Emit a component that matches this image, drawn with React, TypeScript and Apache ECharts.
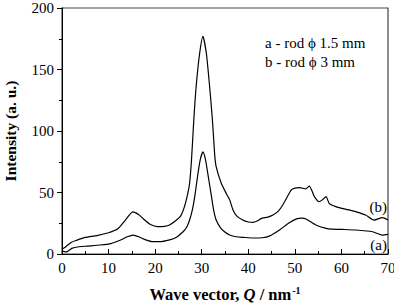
import React, { useEffect, useRef } from "react";
import * as echarts from "echarts";

// Wave vector Q (nm^-1) and intensity for sample (a), rod diameter 1.5 mm
const qA = [0, 0.5, 1, 1.5, 2.1, 3, 5, 8.2, 10.5, 12.6, 14, 15.3, 16.5, 18, 19.5, 21, 23.1, 24.5, 26, 26.8, 27.4, 28, 28.5, 29.2, 29.7, 30.26, 30.8, 31.3, 32.1, 32.6, 33.1, 34, 34.9, 36, 37.4, 39, 41, 43, 44.5, 46.7, 48.8, 50.5, 51.5, 52.4, 54.5, 56.7, 58, 60.2, 63.1, 66.7, 68.8, 70];
const intensityA = [2.5, 2, 1.8, 3, 4.6, 5.5, 6.3, 7.3, 8.5, 11.4, 14, 15.4, 14, 11.5, 10, 10, 11.5, 13.5, 18.1, 22, 27.6, 36, 46.6, 65.6, 77, 83, 77, 65.6, 46.6, 35, 27.6, 21.5, 18.1, 15.5, 14, 13.5, 13, 13.2, 14.5, 19.5, 25.5, 28.8, 29.2, 28.5, 23.6, 20.9, 20.3, 20, 19.5, 18.1, 15.4, 16];

// Wave vector Q (nm^-1) and intensity for sample (b), rod diameter 3 mm
const qB = [0, 0.5, 1, 2, 3, 5, 7.5, 10, 12, 13.5, 15.2, 16.5, 17.5, 19, 20.5, 22, 23.1, 24.6, 25.5, 26.3, 27, 27.4, 27.8, 28.3, 28.8, 29.55, 30.26, 31, 31.7, 32.3, 32.8, 33.1, 34.2, 35.3, 36, 36.7, 37.5, 38.8, 40, 41, 42, 42.8, 44.2, 45.3, 46.5, 47.4, 48.3, 49.2, 50, 51, 52.4, 53.1, 53.6, 54.2, 55.2, 55.9, 56.7, 57.4, 58.8, 61, 62, 63.1, 65.2, 67, 68.8, 70];
const intensityB = [4, 5, 6.5, 9.5, 11, 13.5, 15, 17.3, 20.5, 27, 34.2, 32, 28.5, 24, 22.3, 22.5, 23.6, 27.6, 31, 38.5, 49, 57.5, 76, 109, 136, 163, 177, 163, 136, 109, 80, 71, 57.5, 49, 44, 36, 31, 27.6, 26, 25.7, 27, 29, 30, 31.7, 35, 39.8, 46, 52, 53.5, 54, 53, 55.3, 52, 46.6, 42.5, 44, 46.6, 41, 38.5, 36.3, 35.5, 34.4, 31.7, 27.6, 29.5, 27.6];

const xTicks = { min: 0, max: 70, interval: 10 };
const yTicks = { min: 0, max: 200, interval: 50 };

const legendLines = ["a - rod \u03d5 1.5 mm", "b - rod \u03d5 3 mm"];
const curveTags = ["(a)", "(b)"];

const FONT = "Times New Roman, Liberation Serif, DejaVu Serif, serif";

const pairs = (xs: number[], ys: number[]) => xs.map((x, i) => [x, ys[i]]);

export default function App() {
  const ref = useRef<HTMLDivElement>(null);

  useEffect(() => {
    if (!ref.current) return;
    const chart = echarts.init(ref.current, null, { renderer: "svg" });
    const axisCommon = {
      type: "value" as const,
      splitLine: { show: false },
      axisLine: { show: true, lineStyle: { color: "#000", width: 1 } },
      axisLabel: { color: "#000", fontFamily: FONT, fontSize: 15 },
    };
    chart.setOption({
      animation: false,
      backgroundColor: "#fff",
      textStyle: { fontFamily: FONT },
      grid: {
        left: 62,
        right: 6,
        top: 8,
        bottom: 50,
        show: true,
        borderColor: "#444",
        borderWidth: 1.2,
        containLabel: false,
        outerBoundsMode: "none",
      },
      xAxis: {
        ...axisCommon,
        ...xTicks,
        axisTick: { show: true, inside: true, length: 5, lineStyle: { color: "#000" } },
        minorTick: { show: true, splitNumber: 2, length: 3, lineStyle: { color: "#000" } },
        axisLabel: { ...axisCommon.axisLabel, margin: 6 },
        name: "{b|Wave vector, }{q|Q}{b| / nm}{s|-1}",
        nameLocation: "middle",
        nameGap: 31,
        nameTextStyle: {
          fontFamily: FONT,
          rich: {
            b: { fontFamily: FONT, fontWeight: "bold", fontSize: 16.5, color: "#000" },
            q: { fontFamily: FONT, fontWeight: "bold", fontStyle: "italic", fontSize: 16.5, color: "#000" },
            s: { fontFamily: FONT, fontWeight: "bold", fontSize: 10, color: "#000", verticalAlign: "top", padding: [0, 0, 8, 1] },
          },
        },
      },
      yAxis: {
        ...axisCommon,
        ...yTicks,
        axisTick: { show: true, inside: false, length: 5, lineStyle: { color: "#000" } },
        minorTick: { show: true, splitNumber: 2, length: 3, lineStyle: { color: "#000" } },
        axisLabel: { ...axisCommon.axisLabel, margin: 8 },
        name: "Intensity (a. u.)",
        nameLocation: "middle",
        nameGap: 44,
        nameTextStyle: { fontFamily: FONT, fontWeight: "bold", fontSize: 15.5, color: "#000" },
      },
      series: [
        {
          type: "line",
          data: pairs(qA, intensityA),
          showSymbol: false,
          smooth: 0.2,
          lineStyle: { color: "#000", width: 1.2 },
        },
        {
          type: "line",
          data: pairs(qB, intensityB),
          showSymbol: false,
          smooth: 0.2,
          lineStyle: { color: "#000", width: 1.2 },
        },
      ],
      graphic: [
        ...legendLines.map((t, i) => ({
          type: "text",
          left: 265,
          top: 35 + i * 19,
          style: { text: t, fontFamily: FONT, fontSize: 15, fill: "#000" },
        })),
        {
          type: "text",
          right: 7,
          top: 237,
          style: { text: curveTags[0], fontFamily: FONT, fontSize: 15, fill: "#000" },
        },
        {
          type: "text",
          right: 7,
          top: 199,
          style: { text: curveTags[1], fontFamily: FONT, fontSize: 15, fill: "#000" },
        },
      ],
    });
    return () => chart.dispose();
  }, []);

  return (
    <div
      ref={ref}
      style={{ position: "fixed", left: 0, top: 0, width: 394, height: 304 }}
    />
  );
}
